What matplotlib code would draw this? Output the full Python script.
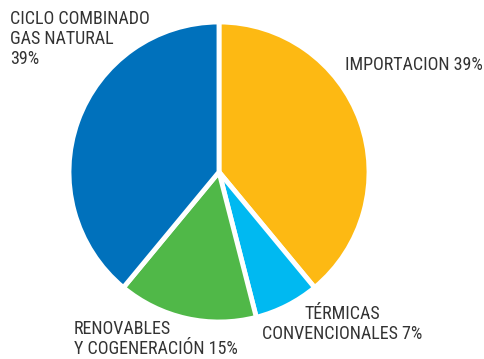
import matplotlib.pyplot as plt
from matplotlib import font_manager
from matplotlib.font_manager import FontProperties

labels = ['IMPORTACION', 'TÉRMICAS\nCONVENCIONALES', 'RENOVABLES\nY COGENERACIÓN', 'CICLO COMBINADO\nGAS NATURAL']
values = [39, 7, 15, 39]
colors = ['#FDB913', '#00B9F1', '#50B848', '#0071BC']

# prefer a condensed face, like the original
names = {f.name for f in font_manager.fontManager.ttflist}
fam, stretch = 'Roboto', 'normal'
for n in ['Roboto Condensed', 'Liberation Sans Narrow', 'Open Sans Condensed']:
    if n in names:
        fam = n
        break
else:
    p = font_manager.findfont(FontProperties(family='DejaVu Sans', stretch='condensed'))
    if 'Condensed' in p:
        fam, stretch = 'DejaVu Sans', 'condensed'
plt.rcParams['font.family'] = [fam, 'DejaVu Sans']
plt.rcParams['font.stretch'] = stretch

W, H = 485, 359
fig = plt.figure(figsize=(4.85, 3.59), dpi=100)
ax = fig.add_axes([0, 0, 1, 1])

ax.pie(values, colors=colors, startangle=90, counterclock=False,
       center=(219, H - 172), radius=150, frame=True,
       wedgeprops=dict(edgecolor='white', linewidth=3.5))
ax.set_xlim(0, W)
ax.set_ylim(0, H)
ax.set_aspect('equal')
ax.axis('off')

# size the text so "IMPORTACION 39%" is about as wide as in the original
tc = '#333333'
r = fig.canvas.get_renderer()
probe = ax.text(0, 0, f'{labels[0]} {values[0]}%', fontsize=10)
fs = 10 * 138 / probe.get_window_extent(r).width
probe.remove()
fs = min(fs, 13)
ls = 1.15

ax.text(10, H - 10, f'{labels[3]}\n{values[3]}%', ha='left', va='top',
        fontsize=fs, color=tc, linespacing=ls)
ax.text(483, H - 56, f'{labels[0]} {values[0]}%', ha='right', va='top',
        fontsize=fs, color=tc)
ax.text(342, H - 305, f'{labels[1]} {values[1]}%', ha='center', va='top',
        fontsize=fs, color=tc, linespacing=ls, multialignment='center')
ax.text(74, H - 320, f'{labels[2]} {values[2]}%', ha='left', va='top',
        fontsize=fs, color=tc, linespacing=ls)

fig.savefig('out.png', dpi=100)
